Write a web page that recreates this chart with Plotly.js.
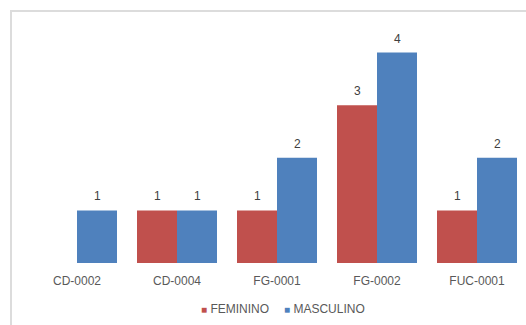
<!DOCTYPE html>
<html>
<head>
<meta charset="utf-8">
<script src="https://cdn.plot.ly/plotly-3.0.1.min.js"></script>
<style>
  html, body { margin: 0; padding: 0; background: #ffffff; }
  #wrap { position: relative; width: 526px; height: 325px; overflow: hidden; }
  #chart { position: absolute; left: 0; top: 0; width: 526px; height: 325px; }
  #frame { position: absolute; left: 10px; top: 10px; width: 700px; height: 500px;
           border: 2px solid #dcdcdc; pointer-events: none; box-sizing: border-box; }
</style>
</head>
<body>
<div id="wrap">
  <div id="chart"></div>
  <div id="frame"></div>
</div>
<script>
const categories = ["CD-0002", "CD-0004", "FG-0001", "FG-0002", "FUC-0001"];
const feminino = [null, 1, 1, 3, 1];
const masculino = [1, 1, 2, 4, 2];
const seriesNames = ["FEMININO", "MASCULINO"];
const seriesColors = ["#C0504D", "#4F81BD"];

const FONT = "Liberation Sans, Arial, sans-serif";
const labelFont = { family: FONT, size: 12, color: "#404040" };

const allSeries = [feminino, masculino];
const traces = allSeries.map((vals, i) => ({
  type: "bar", name: seriesNames[i], x: categories, y: vals,
  marker: { color: seriesColors[i] }, hoverinfo: "none", showlegend: false
}));

// data labels above each bar, anchored to the data values
const annotations = [];
allSeries.forEach((vals, i) => {
  vals.forEach((v, j) => {
    if (v == null) return;
    annotations.push({
      x: categories[j], y: v, xref: "x", yref: "y",
      text: String(v), showarrow: false, font: labelFont,
      xanchor: "center", yanchor: "bottom", yshift: 5, xshift: i === 0 ? -20 : 20
    });
  });
});

// legend drawn as text entries
const legendX = [0.3447, 0.5105];
seriesNames.forEach((n, i) => {
  annotations.push({
    x: legendX[i], y: -0.175, xref: "paper", yref: "paper",
    xanchor: "left", yanchor: "middle", showarrow: false,
    text: '<span style="color:' + seriesColors[i] + ';font-size:10px">■</span> ' + n,
    font: { family: FONT, size: 12, color: "#595959" }
  });
});

const layout = {
  width: 526, height: 325,
  margin: { l: 27, r: 0, t: 0, b: 62 },
  paper_bgcolor: "rgba(0,0,0,0)", plot_bgcolor: "rgba(0,0,0,0)",
  barmode: "group", bargap: 0.2, bargroupgap: 0,
  font: { family: FONT, size: 12, color: "#595959" },
  xaxis: {
    range: [-0.5, 4.49], showgrid: false, zeroline: false, showline: false,
    ticks: "", ticklabelstandoff: 9, tickfont: { size: 12, color: "#595959" }, fixedrange: true
  },
  yaxis: {
    range: [0, 5], visible: false, showgrid: false, zeroline: false, fixedrange: true
  },
  showlegend: false,
  annotations: annotations
};

Plotly.newPlot("chart", traces, layout, { displayModeBar: false, staticPlot: true });
</script>
</body>
</html>
